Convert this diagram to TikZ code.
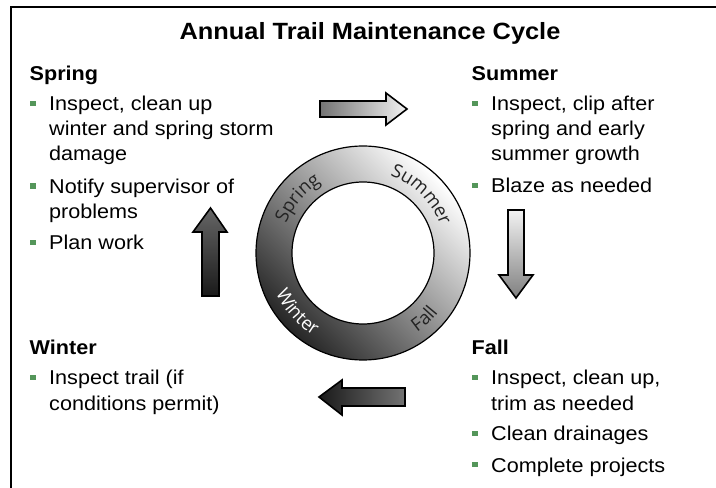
\documentclass[tikz,border=0pt]{standalone}
\usepackage{fontspec}
\setmainfont{Liberation Sans}[FakeStretch=1.08]
\newfontfamily\ringfont{Open Sans}
\usetikzlibrary{decorations.text,calc}
\definecolor{bulgreen}{RGB}{84,150,90}
\definecolor{ringtxt}{RGB}{35,35,35}
\newcommand\ringfmt{\ringfont\fontsize{18.5}{20}\selectfont}
\tikzset{
  txt/.style={anchor=base west, inner sep=0pt, font=\fontsize{20}{25}\selectfont},
  hd/.style={anchor=base west, inner sep=0pt, font=\fontsize{20}{25}\selectfont\bfseries},
  bul/.style={fill=bulgreen, minimum size=5.5pt, inner sep=0pt},
  blockarrow/.style={draw=black, line width=1.6pt, line join=miter},
}
\begin{document}
\begin{tikzpicture}[x=1pt,y=1pt]
\useasboundingbox (0,0) rectangle (716,488);
\clip (0,0) rectangle (716,488);
% frame
\draw[line width=1.8pt] (11,481) rectangle (740,-20);
% title
\node[anchor=base, inner sep=0pt, font=\fontsize{23.5}{28}\selectfont\bfseries] (title) at (370,448) {Annual Trail Maintenance Cycle};
% Spring
\node[hd] (hsp) at (29.5,407.3) {Spring};
\node[bul] (bsp1) at (33,384.7) {};
\node[txt] (sp1) at (49,377.3) {Inspect, clean up};
\node[txt] (sp2) at (49,352) {winter and spring storm};
\node[txt] (sp3) at (49,327) {damage};
\node[bul] (bsp2) at (33,302.1) {};
\node[txt] (sp4) at (49,294.7) {Notify supervisor of};
\node[txt] (sp5) at (49,269.7) {problems};
\node[bul] (bsp3) at (33,245.4) {};
\node[txt] (sp6) at (49,238) {Plan work};
% Summer
\node[hd] (hsu) at (471.5,407.3) {Summer};
\node[bul] (bsu1) at (475,384.7) {};
\node[txt] (su1) at (491,377.3) {Inspect, clip after};
\node[txt] (su2) at (491,352) {spring and early};
\node[txt] (su3) at (491,327) {summer growth};
\node[bul] (bsu2) at (475,302.4) {};
\node[txt] (su4) at (491,295) {Blaze as needed};
% Winter
\node[hd] (hwi) at (29.5,133) {Winter};
\node[bul] (bwi1) at (33,110.4) {};
\node[txt] (wi1) at (49,103) {Inspect trail (if};
\node[txt] (wi2) at (49,77.5) {conditions permit)};
% Fall
\node[hd] (hfa) at (471.5,133) {Fall};
\node[bul] (bfa1) at (475,110.4) {};
\node[txt] (fa1) at (491,103) {Inspect, clean up,};
\node[txt] (fa2) at (491,77.5) {trim as needed};
\node[bul] (bfa2) at (475,54.4) {};
\node[txt] (fa3) at (491,47) {Clean drainages};
\node[bul] (bfa3) at (475,23.4) {};
\node[txt] (fa4) at (491,16) {Complete projects};
% ring
\coordinate (c) at (363,235);
\shade[top color=white, bottom color=black!85, shading angle=-45] (c) circle[radius=107];
\fill[white] (c) circle[radius=71];
\draw[line width=1.2pt] (c) circle[radius=107];
\draw[line width=1.2pt] (c) circle[radius=71];
\path[decorate, decoration={text along path, text align=center, text={|\ringfmt\color{ringtxt}|Spring}}]
  ([shift={(180:82)}]c) arc[start angle=180, end angle=100, radius=82];
\path[decorate, decoration={text along path, text align=center, text={|\ringfmt\color{ringtxt}|Summer}}]
  ([shift={(85:82)}]c) arc[start angle=85, end angle=5, radius=82];
\path[decorate, decoration={text along path, text align=center, text={|\ringfmt\color{white}|Winter}}]
  ([shift={(182:96)}]c) arc[start angle=182, end angle=262, radius=96];
\path[decorate, decoration={text along path, text align=center, text={|\ringfmt\color{ringtxt}|Fall}}]
  ([shift={(-85:96)}]c) arc[start angle=-85, end angle=-9, radius=96];
% arrows
\draw[blockarrow, left color=black!55, right color=black!5]
  (320,387) -- (386,387) -- (386,395) -- (407,379) -- (386,363) -- (386,371) -- (320,371) -- cycle;
\draw[blockarrow, top color=black!5, bottom color=black!50]
  (508,278) -- (524,278) -- (524,213) -- (533,213) -- (516,190) -- (499,213) -- (508,213) -- cycle;
\draw[blockarrow, left color=black!90, right color=black!55]
  (405,100) -- (342,100) -- (342,108) -- (319,91) -- (342,73) -- (342,82) -- (405,82) -- cycle;
\draw[blockarrow, top color=black!60, bottom color=black!90]
  (202,192) -- (202,256) -- (193,256) -- (210.5,280) -- (227,256) -- (219,256) -- (219,192) -- cycle;
\end{tikzpicture}
\end{document}
